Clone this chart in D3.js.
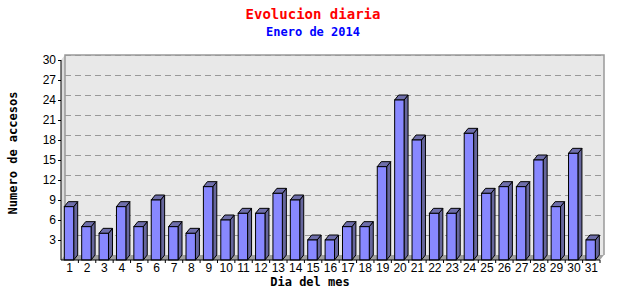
<!DOCTYPE html>
<html>
<head>
<meta charset="utf-8">
<script src="https://cdn.jsdelivr.net/npm/d3@7"></script>
<style>
  body { margin: 0; background: #fff; }
</style>
</head>
<body>
<script>
// Accesos por dia (enero 2014)
var dias = d3.range(1, 32).map(String);
var accesos = [8, 5, 4, 8, 5, 9, 5, 4, 11, 6, 7, 7, 10, 9, 3, 3, 5, 5, 14, 24, 18, 7, 7, 19, 10, 11, 11, 15, 8, 16, 3];
var yTicks = [3, 6, 9, 12, 15, 18, 21, 24, 27, 30];

var width = 640, height = 300;
var pLeft = 61, pRight = 600, pTop = 60, pBottom = 260;
var dx = 4, dy = -5;   // profundidad 3D

var svg = d3.select("body").append("svg")
    .attr("width", width)
    .attr("height", height)
    .style("display", "block");

var x = d3.scaleBand().domain(dias).range([pLeft, pRight]).padding(0);
var y = d3.scaleLinear().domain([0, 30]).range([pBottom, pTop]);

// Plano de fondo
svg.append("rect")
    .attr("x", pLeft + dx).attr("y", pTop + dy)
    .attr("width", pRight - pLeft).attr("height", pBottom - pTop)
    .attr("fill", "#e8e8e8");

// Pared izquierda
svg.append("path")
    .attr("d", "M" + pLeft + "," + pTop + "L" + (pLeft + dx) + "," + (pTop + dy) +
               "L" + (pLeft + dx) + "," + (pBottom + dy) + "L" + pLeft + "," + pBottom + "Z")
    .attr("fill", "#dcdcdc");

// Borde del plano de fondo
svg.append("path")
    .attr("d", "M" + (pLeft + dx) + "," + (pBottom + dy) + "V" + (pTop + dy) + "H" + (pRight + dx) + "V" + (pBottom + dy))
    .attr("fill", "none")
    .attr("stroke", "#999")
    .attr("stroke-width", 1.5);

// Lineas de rejilla
svg.selectAll(".grid")
    .data(yTicks)
    .enter().append("line")
    .attr("x1", pLeft + dx).attr("x2", pRight + dx)
    .attr("y1", d => y(d) + dy + 0.5).attr("y2", d => y(d) + dy + 0.5)
    .attr("stroke", "#999")
    .attr("stroke-dasharray", "6,4");

// Suelo
svg.append("path")
    .attr("d", "M" + pLeft + "," + pBottom + "L" + (pLeft + dx) + "," + (pBottom + dy) +
               "L" + (pRight + dx) + "," + (pBottom + dy) + "L" + pRight + "," + pBottom + "Z")
    .attr("fill", "#a0a0a0");

// Barras 3D
var bw = 9.4, off = 3.3;
var g = svg.selectAll(".bar")
    .data(accesos)
    .enter().append("g");

g.append("path")   // lateral
    .attr("d", function (d, i) {
        var x0 = x(dias[i]) + off + bw;
        return "M" + x0 + "," + y(d) + "L" + (x0 + dx) + "," + (y(d) + dy) +
               "L" + (x0 + dx) + "," + (pBottom + dy) + "L" + x0 + "," + pBottom + "Z";
    })
    .attr("fill", "#66669c")
    .attr("stroke", "#000")
    .attr("stroke-width", 1)
    .attr("stroke-linejoin", "round");

g.append("path")   // tapa
    .attr("d", function (d, i) {
        var x0 = x(dias[i]) + off;
        return "M" + x0 + "," + y(d) + "L" + (x0 + dx) + "," + (y(d) + dy) +
               "L" + (x0 + dx + bw) + "," + (y(d) + dy) + "L" + (x0 + bw) + "," + y(d) + "Z";
    })
    .attr("fill", "#6e6eaa")
    .attr("stroke", "#000")
    .attr("stroke-width", 1)
    .attr("stroke-linejoin", "round");

g.append("rect")   // frente
    .attr("x", (d, i) => x(dias[i]) + off)
    .attr("y", d => y(d))
    .attr("width", bw)
    .attr("height", d => pBottom - y(d))
    .attr("fill", "#8888ff")
    .attr("stroke", "#000")
    .attr("stroke-width", 1);

// Eje Y
var yAxis = svg.append("g")
    .attr("transform", "translate(" + pLeft + ",0)")
    .call(d3.axisLeft(y).tickValues(yTicks).tickSize(3).tickPadding(2));
yAxis.select(".domain").attr("d", "M0," + pTop + "V" + pBottom).attr("stroke", "#000");
yAxis.selectAll("text")
    .style("font-family", "'Liberation Sans', Arial, sans-serif")
    .style("font-size", "12px")
    .attr("fill", "#000");

// Eje X
var xAxis = svg.append("g")
    .attr("transform", "translate(0," + pBottom + ")")
    .call(d3.axisBottom(x).tickSize(0).tickPadding(3));
xAxis.select(".domain").attr("d", "M" + pLeft + ",0H" + pRight).attr("stroke", "#000");
xAxis.selectAll("text")
    .style("font-family", "'Liberation Sans', Arial, sans-serif")
    .style("font-size", "12px")
    .attr("fill", "#000");
svg.selectAll(".xtick")
    .data(dias)
    .enter().append("line")
    .attr("x1", d => x(d) + x.bandwidth()).attr("x2", d => x(d) + x.bandwidth())
    .attr("y1", pBottom).attr("y2", pBottom + 3)
    .attr("stroke", "#000");

// Titulos
svg.append("text")
    .attr("x", 313).attr("y", 19)
    .attr("text-anchor", "middle")
    .style("font-family", "'DejaVu Sans Mono', monospace")
    .style("font-size", "14px")
    .style("font-weight", "bold")
    .attr("fill", "#ff0000")
    .text("Evolucion diaria");

svg.append("text")
    .attr("x", 313).attr("y", 36)
    .attr("text-anchor", "middle")
    .style("font-family", "'DejaVu Sans Mono', monospace")
    .style("font-size", "12px")
    .style("font-weight", "bold")
    .attr("fill", "#0000ff")
    .text("Enero de 2014");

svg.append("text")
    .attr("transform", "translate(17,153) rotate(-90)")
    .attr("text-anchor", "middle")
    .style("font-family", "'DejaVu Sans Mono', monospace")
    .style("font-size", "12px")
    .style("font-weight", "bold")
    .attr("fill", "#000")
    .text("Numero de accesos");

svg.append("text")
    .attr("x", 310).attr("y", 286)
    .attr("text-anchor", "middle")
    .style("font-family", "'DejaVu Sans Mono', monospace")
    .style("font-size", "12px")
    .style("font-weight", "bold")
    .attr("fill", "#000")
    .text("Dia del mes");
</script>
</body>
</html>
